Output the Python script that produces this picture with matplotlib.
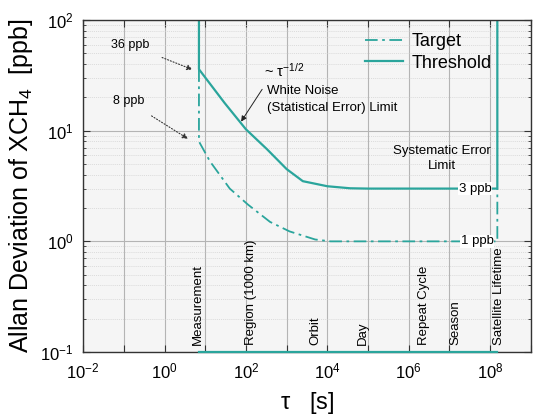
import numpy as np
import matplotlib
matplotlib.use("Agg")
import matplotlib.pyplot as plt
from matplotlib.ticker import FixedLocator, FuncFormatter, NullFormatter

plt.rcParams['font.family'] = ['Liberation Sans', 'DejaVu Sans']
plt.rcParams['mathtext.fontset'] = 'custom'
plt.rcParams['mathtext.rm'] = 'Liberation Sans'
plt.rcParams['mathtext.it'] = 'Liberation Sans:italic'
plt.rcParams['mathtext.default'] = 'regular'

# Courbes (tau en s, deviation en ppb)
tau_threshold = [7, 7, 30, 100, 330, 1000, 2500, 1e4, 3.6e4, 1e5, 1.5e8, 1.5e8]
dev_threshold = [100, 36, 17.8, 10.3, 6.8, 4.5, 3.5, 3.15, 3.02, 3.0, 3.0, 100]

tau_target = [7, 7, 13, 40, 112, 390, 1180, 5000, 1.2e4, 1e5, 1.5e8, 1.5e8]
dev_target = [36, 8, 5.3, 3.0, 2.15, 1.5, 1.23, 1.04, 1.0, 1.0, 1.0, 3.0]

# Echelles de temps (position du texte en log10(tau))
event_names = ["Measurement", "Region (1000 km)", "Orbit", "Day",
               "Repeat Cycle", "Season", "Satellite Lifetime"]
event_logtau = [0.83, 2.12, 3.71, 4.88, 6.37, 7.15, 8.22]

teal = "#2aa59c"

fig = plt.figure(figsize=(5.33, 4.2), dpi=100)
ax = fig.add_axes([0.156, 0.162, 0.84, 0.79])
ax.set_facecolor("#f5f5f5")
ax.set_xscale("log")
ax.set_yscale("log")
ax.set_xlim(1e-2, 1e9)
ax.set_ylim(1e-1, 1e2)

# grille
ax.grid(which="major", color="#b4b4b4", lw=0.8, ls="-")
ax.grid(which="minor", color="#d2d2d2", lw=0.5, ls=(0, (1.5, 1.5)))
ax.set_axisbelow(True)

ax.plot(tau_target, dev_target, color=teal, lw=1.3, ls=(0, (7, 2.5, 1.5, 2.5)), label="Target")
ax.plot(tau_threshold, dev_threshold, color=teal, lw=1.6, label="Threshold")
ax.plot([7, 1.5e8], [0.1, 0.1], color=teal, lw=1.6, clip_on=False, zorder=4)

# ticks
ax.xaxis.set_major_locator(FixedLocator([10.0**k for k in range(-2, 10)]))
ax.xaxis.set_major_formatter(FuncFormatter(
    lambda v, p: r"$10^{%d}$" % round(np.log10(v)) if round(np.log10(v)) % 2 == 0 and round(np.log10(v)) < 9 else ""))
ax.xaxis.set_minor_formatter(NullFormatter())
ax.yaxis.set_major_locator(FixedLocator([0.1, 1, 10, 100]))
ax.yaxis.set_major_formatter(FuncFormatter(lambda v, p: r"$10^{%d}$" % round(np.log10(v))))
ax.yaxis.set_minor_formatter(NullFormatter())
ax.tick_params(which="both", direction="in", top=True, right=True, labelsize=12, color="#333333")
ax.tick_params(which="major", length=5, width=0.8, pad=7)
ax.tick_params(which="minor", length=2.5, width=0.6)
for s in ax.spines.values():
    s.set_color("#333333")
    s.set_linewidth(1.0)

ax.set_xlabel(r"$\tau$   [s]", fontsize=17, labelpad=6)
ax.set_ylabel(r"Allan Deviation of XCH$_4$  [ppb]", fontsize=18, labelpad=4)

# echelles de temps
for name, lt in zip(event_names, event_logtau):
    ax.text(10.0**lt, 0.115, name, rotation=90, ha="center", va="bottom", fontsize=9.5)

# annotations
ax.annotate("36 ppb", xy=(5.6, 35), xytext=(0.14, 60), fontsize=9, ha="center", va="center",
            arrowprops=dict(arrowstyle="-|>", color="#333333", lw=0.8, ls=":", shrinkA=8, mutation_scale=8))
ax.annotate("8 ppb", xy=(4.3, 8.2), xytext=(0.128, 18.5), fontsize=9, ha="center", va="center",
            arrowprops=dict(arrowstyle="-|>", color="#333333", lw=0.8, ls=":", shrinkA=8, mutation_scale=8))
ax.annotate("", xy=(76, 12.1), xytext=(250, 23.7),
            arrowprops=dict(arrowstyle="-|>", color="#222222", lw=0.7, shrinkA=0, shrinkB=0, mutation_scale=8))
ax.text(270, 35, r"~ $\tau^{-1/2}$", fontsize=10.5, ha="left", va="center")
ax.text(330, 22.8, "White Noise", fontsize=9.5, ha="left", va="center")
ax.text(330, 16, "(Statistical Error) Limit", fontsize=9.5, ha="left", va="center")
ax.text(6.6e6, 6.5, "Systematic Error", fontsize=9.5, ha="center", va="center")
ax.text(6.6e6, 4.8, "Limit", fontsize=9.5, ha="center", va="center")
ax.text(4.3e7, 3.0, "3 ppb", fontsize=9.5, ha="center", va="center",
        bbox=dict(facecolor="white", edgecolor="none", pad=0.5))
ax.text(4.8e7, 1.0, "1 ppb", fontsize=9.5, ha="center", va="center",
        bbox=dict(facecolor="white", edgecolor="none", pad=0.5))

ax.legend(loc="upper right", bbox_to_anchor=(0.95, 1.01), frameon=False, fontsize=13,
          handlelength=2.1, handletextpad=0.5, labelspacing=0.25)

fig.savefig("out.png", dpi=100)
